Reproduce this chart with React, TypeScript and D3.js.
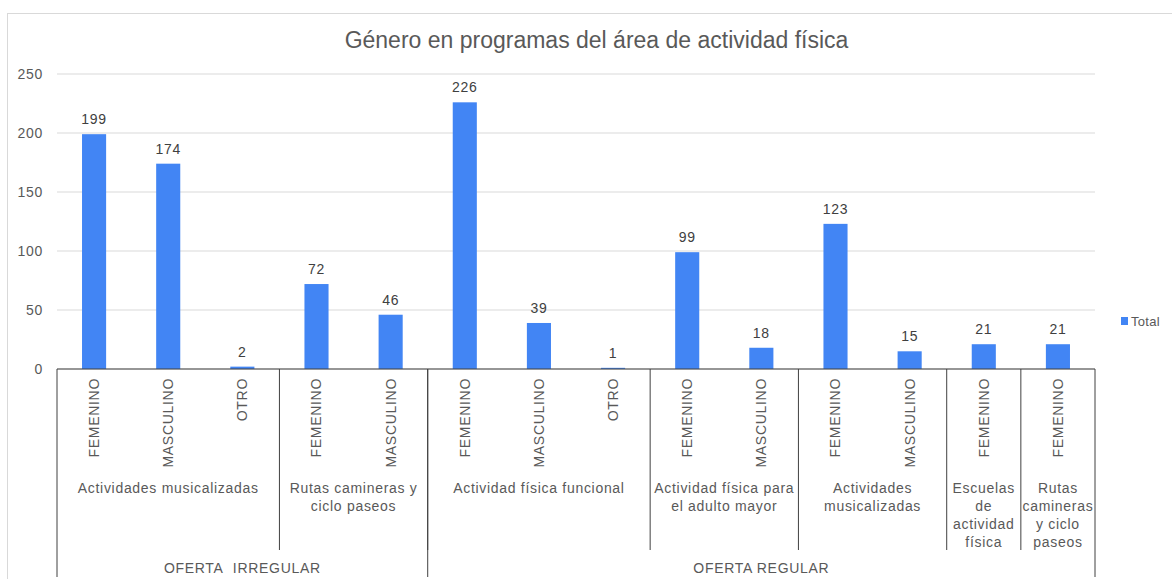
import React from "react";
import * as d3 from "d3";

const genders = ["FEMENINO","MASCULINO","OTRO","FEMENINO","MASCULINO","FEMENINO","MASCULINO","OTRO","FEMENINO","MASCULINO","FEMENINO","MASCULINO","FEMENINO","FEMENINO"];
const values = [199,174,2,72,46,226,39,1,99,18,123,15,21,21];
const programs = [
  { label: ["Actividades musicalizadas"], start: 0, count: 3 },
  { label: ["Rutas camineras y", "ciclo paseos"], start: 3, count: 2 },
  { label: ["Actividad física funcional"], start: 5, count: 3 },
  { label: ["Actividad física para", "el adulto mayor"], start: 8, count: 2 },
  { label: ["Actividades", "musicalizadas"], start: 10, count: 2 },
  { label: ["Escuelas", "de", "actividad", "física"], start: 12, count: 1 },
  { label: ["Rutas", "camineras", "y ciclo", "paseos"], start: 13, count: 1 },
];
const offers = [
  { label: "OFERTA\u00a0 IRREGULAR", start: 0, count: 5 },
  { label: "OFERTA REGULAR", start: 5, count: 9 },
];
const yTicks = [0, 50, 100, 150, 200, 250];
const title = "Género en programas del área de actividad física";
const seriesName = "Total";

export default function App() {
  const W = 1172, H = 579;
  const left = 57, right = 1095, top = 74, bottom = 369;
  const x = d3.scaleBand<number>().domain(d3.range(values.length)).range([left, right]).paddingInner(0.675).paddingOuter(0.3375);
  const n = values.length;
  const cw = (right - left) / n;
  const bx = (i: number) => left + i * cw;
  const y = d3.scaleLinear().domain([0, 250]).range([bottom, top]);
  const font = "'Liberation Sans', Arial, sans-serif";
  const txt = "#595959";
  const blue = "#4285F4";
  const lineC = "#404040";
  const bw = x.bandwidth();
  const ls = 0.7;
  return (
    <svg width={W} height={H} style={{ position: "absolute", left: 0, top: 0 }} fontFamily={font}>
      <rect x={7.5} y={13.5} width={1180} height={600} fill="#fff" stroke="#d9d9d9" />
      <text x={596.5} y={48} textAnchor="middle" fontSize={23} fill={txt}>{title}</text>
      {yTicks.map((t) => (
        <g key={t}>
          <line x1={left} x2={right} y1={y(t)} y2={y(t)} stroke="#d9d9d9" />
          <text x={43} y={y(t)} dy="0.35em" textAnchor="end" fontSize={14} letterSpacing={ls} fill={txt}>{t}</text>
        </g>
      ))}
      {values.map((v, i) => {
        const cx = bx(i) + cw / 2;
        return (
          <g key={i}>
            <rect x={cx - bw / 2} y={y(v)} width={bw} height={bottom - y(v)} fill={blue} />
            <text x={cx} y={y(v) - 10} textAnchor="middle" fontSize={14} letterSpacing={ls} fill="#404040">{v}</text>
            <text transform={`translate(${cx},378) rotate(-90)`} textAnchor="end" dy="0.35em" fontSize={14} letterSpacing={ls} fill={txt}>{genders[i]}</text>
          </g>
        );
      })}
      <line x1={left} x2={right} y1={bottom} y2={bottom} stroke={lineC} />
      {programs.map((p, k) => {
        const cx = (bx(p.start) + bx(p.start + p.count)) / 2;
        return (
          <g key={k}>
            {p.label.map((l, j) => (
              <text key={j} x={cx} y={488 + j * 18} dy="0.35em" textAnchor="middle" fontSize={14} letterSpacing={ls} fill={txt}>{l}</text>
            ))}
            {k > 0 && <line x1={bx(p.start)} x2={bx(p.start)} y1={bottom} y2={550} stroke={lineC} />}
          </g>
        );
      })}
      {offers.map((o, k) => {
        const cx = (bx(o.start) + bx(o.start + o.count)) / 2;
        return (
          <g key={k}>
            <text x={cx} y={568} dy="0.35em" textAnchor="middle" fontSize={14} letterSpacing={ls} fill={txt}>{o.label}</text>
            <line x1={bx(o.start)} x2={bx(o.start)} y1={bottom} y2={577} stroke={lineC} />
          </g>
        );
      })}
      <line x1={right} x2={right} y1={bottom} y2={577} stroke={lineC} />
      <rect x={1121} y={317} width={7} height={8} fill={blue} />
      <text x={1131} y={321} dy="0.35em" fontSize={13} letterSpacing={0.3} fill={txt}>{seriesName}</text>
    </svg>
  );
}
